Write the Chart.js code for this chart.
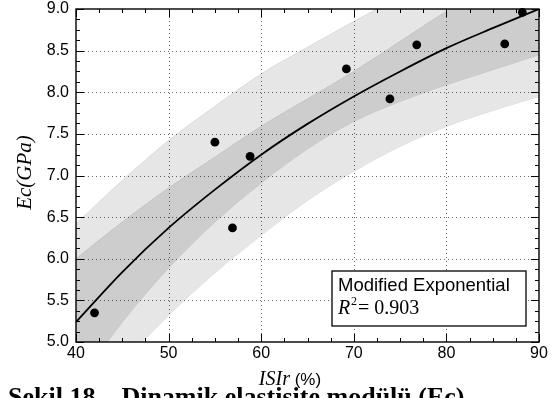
<!DOCTYPE html>
<html>
<head>
<meta charset="utf-8">
<script src="https://cdn.jsdelivr.net/npm/chart.js@4.4.1/dist/chart.umd.min.js"></script>
<style>
  body { margin: 0; background: #fff; }
  #wrap { width: 555px; height: 398px; }
</style>
</head>
<body>
<div id="wrap"><canvas id="myChart"></canvas></div>
<script>
// measured points
const isiR = [42.0, 55.0, 56.9, 58.8, 69.2, 73.9, 76.8, 86.3, 88.2];
const ecValues = [5.35, 7.40, 6.37, 7.23, 8.28, 7.92, 8.57, 8.58, 8.96];

// fitted curve and bands, every 5 %
const curveX = [40, 45, 50, 55, 60, 65, 70, 75, 80, 85, 90];
const fitE = [5.24, 5.84, 6.37, 6.83, 7.25, 7.62, 7.95, 8.25, 8.53, 8.77, 9.00];
const confUpper = [6.00, 6.44, 6.85, 7.22, 7.59, 7.92, 8.25, 8.61, 8.97, 9.27, 9.55];
const confLower = [4.48, 5.24, 5.89, 6.44, 6.91, 7.32, 7.65, 7.89, 8.09, 8.27, 8.45];
const predUpper = [6.42, 6.94, 7.42, 7.83, 8.22, 8.54, 8.85, 9.15, 9.47, 9.76, 10.05];
const predLower = [4.06, 4.74, 5.32, 5.83, 6.28, 6.70, 7.05, 7.35, 7.59, 7.78, 7.95];

const xTicks = [40, 50, 60, 70, 80, 90];
const yTicks = [5.0, 5.5, 6.0, 6.5, 7.0, 7.5, 8.0, 8.5, 9.0];

const toXY = (xs, ys) => xs.map((x, i) => ({x: x, y: ys[i]}));

function drawGrid(chart) {
    const {ctx, chartArea: a, scales} = chart;
    ctx.save();
    ctx.setLineDash([1, 3]);
    ctx.strokeStyle = 'rgba(0,0,0,0.6)';
    ctx.lineWidth = 1;
    xTicks.slice(1, -1).forEach(v => {
        const px = Math.round(scales.x.getPixelForValue(v)) + 0.5;
        ctx.beginPath(); ctx.moveTo(px, a.top); ctx.lineTo(px, a.bottom); ctx.stroke();
    });
    yTicks.slice(1, -1).forEach(v => {
        const py = Math.round(scales.y.getPixelForValue(v)) + 0.5;
        ctx.beginPath(); ctx.moveTo(a.left, py); ctx.lineTo(a.right, py); ctx.stroke();
    });
    ctx.restore();
}

const overlay = {
    id: 'overlay',
    afterDatasetDraw(chart, args) {
        if (args.index === 2) drawGrid(chart);
    },
    afterDraw(chart) {
        const {ctx, chartArea: a, scales} = chart;
        ctx.save();
        ctx.strokeStyle = '#000';
        ctx.lineWidth = 1;
        // inward ticks on all sides
        for (let i = 0; i <= 20; i++) {
            const v = 40 + i * 2.5;
            const len = i % 4 === 0 ? 8 : 4;
            const px = Math.round(scales.x.getPixelForValue(v)) + 0.5;
            ctx.beginPath();
            ctx.moveTo(px, a.bottom); ctx.lineTo(px, a.bottom - len);
            ctx.moveTo(px, a.top); ctx.lineTo(px, a.top + len);
            ctx.stroke();
        }
        for (let i = 0; i <= 32; i++) {
            const v = 5 + i * 0.125;
            const len = i % 4 === 0 ? 8 : 4;
            const py = Math.round(scales.y.getPixelForValue(v)) + 0.5;
            ctx.beginPath();
            ctx.moveTo(a.left, py); ctx.lineTo(a.left + len, py);
            ctx.moveTo(a.right, py); ctx.lineTo(a.right - len, py);
            ctx.stroke();
        }
        // frame
        ctx.lineWidth = 1.4;
        ctx.strokeRect(a.left, a.top, a.right - a.left, a.bottom - a.top);

        // legend box
        const bx = a.right - 207, by = 271;
        ctx.fillStyle = '#fff';
        ctx.fillRect(bx, by, 194, 55);
        ctx.lineWidth = 1.3;
        ctx.strokeRect(bx, by, 194, 55);
        ctx.fillStyle = '#000';
        ctx.textBaseline = 'alphabetic';
        ctx.textAlign = 'left';
        ctx.font = '18.5px "Liberation Sans", Arial, sans-serif';
        ctx.fillText('Modified Exponential', bx + 6, by + 20);
        ctx.font = 'italic 20px "Liberation Serif", serif';
        ctx.fillText('R', bx + 6, by + 43);
        ctx.font = '12px "Liberation Serif", serif';
        ctx.fillText('2', bx + 19, by + 34);
        ctx.font = '20px "Liberation Serif", serif';
        ctx.fillText('= 0.903', bx + 26, by + 43);

        // axis titles
        const cx = 290;
        ctx.font = 'italic 20px "Liberation Serif", serif';
        const w1 = ctx.measureText('ISIr').width;
        ctx.font = '17px "Liberation Sans", Arial, sans-serif';
        const w2 = ctx.measureText(' (%)').width;
        let tx = cx - (w1 + w2) / 2;
        ctx.font = 'italic 20px "Liberation Serif", serif';
        ctx.fillText('ISIr', tx, 385);
        ctx.font = '17px "Liberation Sans", Arial, sans-serif';
        ctx.fillText(' (%)', tx + w1, 385);

        ctx.save();
        ctx.translate(31, (a.top + a.bottom) / 2 - 3);
        ctx.rotate(-Math.PI / 2);
        ctx.textAlign = 'center';
        ctx.font = 'italic 21px "Liberation Serif", serif';
        ctx.fillText('Ec(GPa)', 0, 0);
        ctx.restore();

        // caption, cut at the bottom edge
        ctx.font = 'bold 26px "Liberation Serif", serif';
        ctx.fillText('Şekil 18 – Dinamik elastisite modülü (Ec)', 8, 405);
        ctx.restore();
    }
};

const ctx = document.getElementById('myChart');

new Chart(ctx, {
    type: 'scatter',
    data: {
        datasets: [
            {
                label: 'Measured',
                data: toXY(isiR, ecValues),
                backgroundColor: '#000',
                borderWidth: 0,
                pointRadius: 4.4,
                order: 0,
                clip: false
            },
            {
                label: 'Modified Exponential',
                data: toXY(curveX, fitE),
                showLine: true,
                borderColor: '#000',
                borderWidth: 1.8,
                pointRadius: 0,
                cubicInterpolationMode: 'monotone',
                order: 1,
                clip: 0
            },
            {
                label: 'conf upper',
                data: toXY(curveX, confUpper),
                showLine: true,
                borderColor: '#c4c4c4',
                borderWidth: 1,
                backgroundColor: '#cdcdcd',
                fill: '+1',
                pointRadius: 0,
                cubicInterpolationMode: 'monotone',
                order: 2,
                clip: 0
            },
            {
                label: 'conf lower',
                data: toXY(curveX, confLower),
                showLine: true,
                borderColor: '#c4c4c4',
                borderWidth: 1,
                pointRadius: 0,
                cubicInterpolationMode: 'monotone',
                order: 2,
                clip: 0
            },
            {
                label: 'pred upper',
                data: toXY(curveX, predUpper),
                showLine: true,
                borderColor: '#dadada',
                borderWidth: 1,
                backgroundColor: '#e6e6e6',
                fill: '+1',
                pointRadius: 0,
                cubicInterpolationMode: 'monotone',
                order: 4,
                clip: 0
            },
            {
                label: 'pred lower',
                data: toXY(curveX, predLower),
                showLine: true,
                borderColor: '#dadada',
                borderWidth: 1,
                pointRadius: 0,
                cubicInterpolationMode: 'monotone',
                order: 4,
                clip: 0
            }
        ]
    },
    options: {
        responsive: true,
        maintainAspectRatio: false,
        animation: false,
        events: [],
        layout: {padding: {top: 9, right: 16, left: 0, bottom: 0}},
        plugins: {
            legend: {display: false},
            tooltip: {enabled: false}
        },
        scales: {
            x: {
                type: 'linear',
                min: 40,
                max: 90,
                afterBuildTicks: s => { s.ticks = xTicks.map(v => ({value: v})); },
                ticks: {
                    color: '#000',
                    padding: 2,
                    font: {family: '"Liberation Sans", Arial, sans-serif', size: 16}
                },
                grid: {display: false, drawTicks: false},
                border: {display: false},
                afterFit: s => { s.height = 56; s.paddingLeft = 0; s.paddingRight = 0; }
            },
            y: {
                min: 5,
                max: 9,
                afterBuildTicks: s => { s.ticks = yTicks.map(v => ({value: v})); },
                ticks: {
                    color: '#000',
                    padding: 7,
                    callback: v => v.toFixed(1),
                    font: {family: '"Liberation Sans", Arial, sans-serif', size: 16}
                },
                grid: {display: false, drawTicks: false},
                border: {display: false},
                afterFit: s => { s.width = 76; s.paddingTop = 0; s.paddingBottom = 0; }
            }
        }
    },
    plugins: [overlay]
});
</script>
</body>
</html>
